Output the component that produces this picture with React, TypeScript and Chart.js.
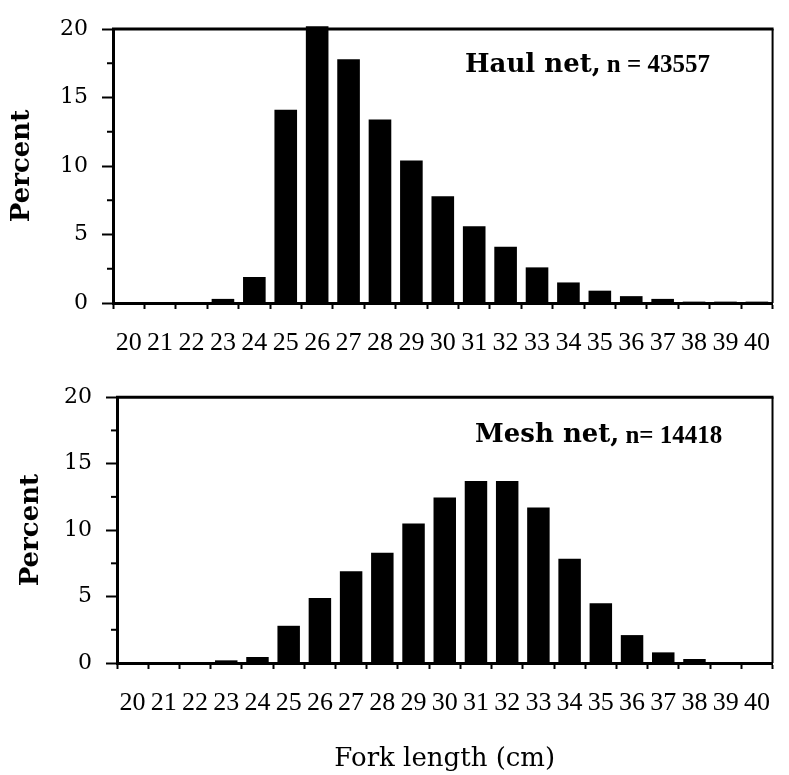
import React, { useEffect, useRef } from "react";
import { Chart, registerables } from "chart.js";

Chart.register(...registerables);

// ---- data ----
const forkLengths = ["20", "21", "22", "23", "24", "25", "26", "27", "28", "29", "30", "31", "32", "33", "34", "35", "36", "37", "38", "39", "40"];
const haulNetPercent = [0, 0, 0, 0.3, 1.9, 14.1, 20.2, 17.8, 13.4, 10.4, 7.8, 5.6, 4.1, 2.6, 1.5, 0.9, 0.5, 0.3, 0.1, 0.1, 0.1];
const meshNetPercent = [0, 0, 0, 0.2, 0.45, 2.8, 4.9, 6.9, 8.3, 10.5, 12.45, 13.7, 13.7, 11.7, 7.85, 4.5, 2.1, 0.8, 0.3, 0.05, 0.05];
const yMajorTicks = [0, 5, 10, 15, 20];
const yMinorTicks = [2.5, 7.5, 12.5, 17.5];
const haulLabel = "Haul net,";
const haulCount = "n = 43557";
const meshLabel = "Mesh net,";
const meshCount = "n= 14418";
const yAxisTitle = "Percent";
const xAxisTitle = "Fork length (cm)";

type PanelProps = {
  values: number[];
  label: string;
  count: string;
  top: number;
  height: number;
  padTop: number;
  padRight: number;
  yWidth: number;
  xHeight: number;
  yTitlePad: number;
  showXTitle: boolean;
  annX: number;
  annY: number;
};

function Panel(p: PanelProps) {
  const ref = useRef<HTMLCanvasElement | null>(null);
  useEffect(() => {
    if (!ref.current) return;
    const decor = {
      id: "decor",
      afterDatasetsDraw(chart: any) {
        const { ctx, chartArea } = chart;
        const { left, right, top, bottom } = chartArea;
        const yScale = chart.scales.y;
        ctx.save();
        ctx.strokeStyle = "#000";
        ctx.lineWidth = 3;
        ctx.beginPath();
        ctx.moveTo(left - 1, top);
        ctx.lineTo(right + 1, top);
        ctx.stroke();
        ctx.lineWidth = 2;
        ctx.beginPath();
        ctx.moveTo(right, top);
        ctx.lineTo(right, bottom);
        ctx.stroke();
        ctx.lineWidth = 2;
        yMinorTicks.forEach((v) => {
          const y = yScale.getPixelForValue(v);
          ctx.beginPath();
          ctx.moveTo(left - 6, y);
          ctx.lineTo(left, y);
          ctx.stroke();
        });
        ctx.fillStyle = "#000";
        ctx.textBaseline = "middle";
        ctx.textAlign = "left";
        const ax = left + p.annX;
        const ay = top + p.annY;
        ctx.font = "bold 26px 'DejaVu Serif'";
        ctx.fillText(p.label, ax, ay);
        const w = ctx.measureText(p.label).width + 6;
        ctx.font = "bold 25px 'Liberation Serif'";
        ctx.fillText(p.count, ax + w, ay + 1);
        ctx.restore();
      },
    };
    const chart = new Chart(ref.current, {
      type: "bar",
      data: {
        labels: forkLengths,
        datasets: [
          {
            data: p.values,
            backgroundColor: "#000",
            borderWidth: 0,
            barPercentage: 0.72,
            categoryPercentage: 1,
            clip: false as any,
          },
        ],
      },
      options: {
        responsive: false,
        maintainAspectRatio: false,
        animation: false,
        layout: { padding: { left: 0, right: p.padRight, top: p.padTop, bottom: 0 } },
        plugins: { legend: { display: false }, tooltip: { enabled: false }, title: { display: false } },
        scales: {
          x: {
            type: "category",
            offset: true,
            grid: { offset: true, drawOnChartArea: false, drawTicks: true, tickLength: 6, tickWidth: 2, color: "#000" },
            border: { display: true, color: "#000", width: 3 },
            ticks: {
              color: "#000",
              font: { family: "'Liberation Serif'", size: 26 },
              padding: 19,
              maxRotation: 0,
              minRotation: 0,
              autoSkip: false,
            },
            title: {
              display: p.showXTitle,
              text: xAxisTitle,
              color: "#000",
              font: { family: "'DejaVu Serif'", size: 26 },
              padding: { top: 0, bottom: 0 },
            },
            afterFit: (s: any) => {
              s.height = p.xHeight;
            },
          },
          y: {
            min: 0,
            max: 20,
            afterBuildTicks: (s: any) => {
              s.ticks = yMajorTicks.map((v) => ({ value: v }));
            },
            ticks: { color: "#000", font: { family: "'DejaVu Serif'", size: 22 }, padding: 14 },
            grid: { drawOnChartArea: false, drawTicks: true, tickLength: 11, tickWidth: 2, color: "#000" },
            border: { display: true, color: "#000", width: 3 },
            title: {
              display: true,
              text: yAxisTitle,
              color: "#000",
              font: { family: "'DejaVu Serif'", size: 26, weight: "bold" },
              padding: { top: p.yTitlePad, bottom: 0 },
            },
            afterFit: (s: any) => {
              s.width = p.yWidth;
            },
          },
        },
      } as any,
      plugins: [decor],
    });
    return () => chart.destroy();
  }, []);
  return (
    <div style={{ position: "absolute", left: 0, top: p.top, width: 789, height: p.height }}>
      <canvas ref={ref} width={789} height={p.height} style={{ display: "block" }} />
    </div>
  );
}

export default function App() {
  return (
    <div style={{ position: "absolute", left: 0, top: 0, width: 789, height: 775, overflow: "hidden", background: "#fff" }}>
      <Panel
        values={haulNetPercent}
        label={haulLabel}
        count={haulCount}
        top={0}
        height={370}
        padTop={29}
        padRight={5}
        yWidth={113}
        xHeight={67}
        yTitlePad={7}
        showXTitle={false}
        annX={352}
        annY={36}
      />
      <Panel
        values={meshNetPercent}
        label={meshLabel}
        count={meshCount}
        top={370}
        height={405}
        padTop={22}
        padRight={4}
        yWidth={117}
        xHeight={112}
        yTitlePad={16}
        showXTitle={true}
        annX={358}
        annY={38}
      />
    </div>
  );
}
